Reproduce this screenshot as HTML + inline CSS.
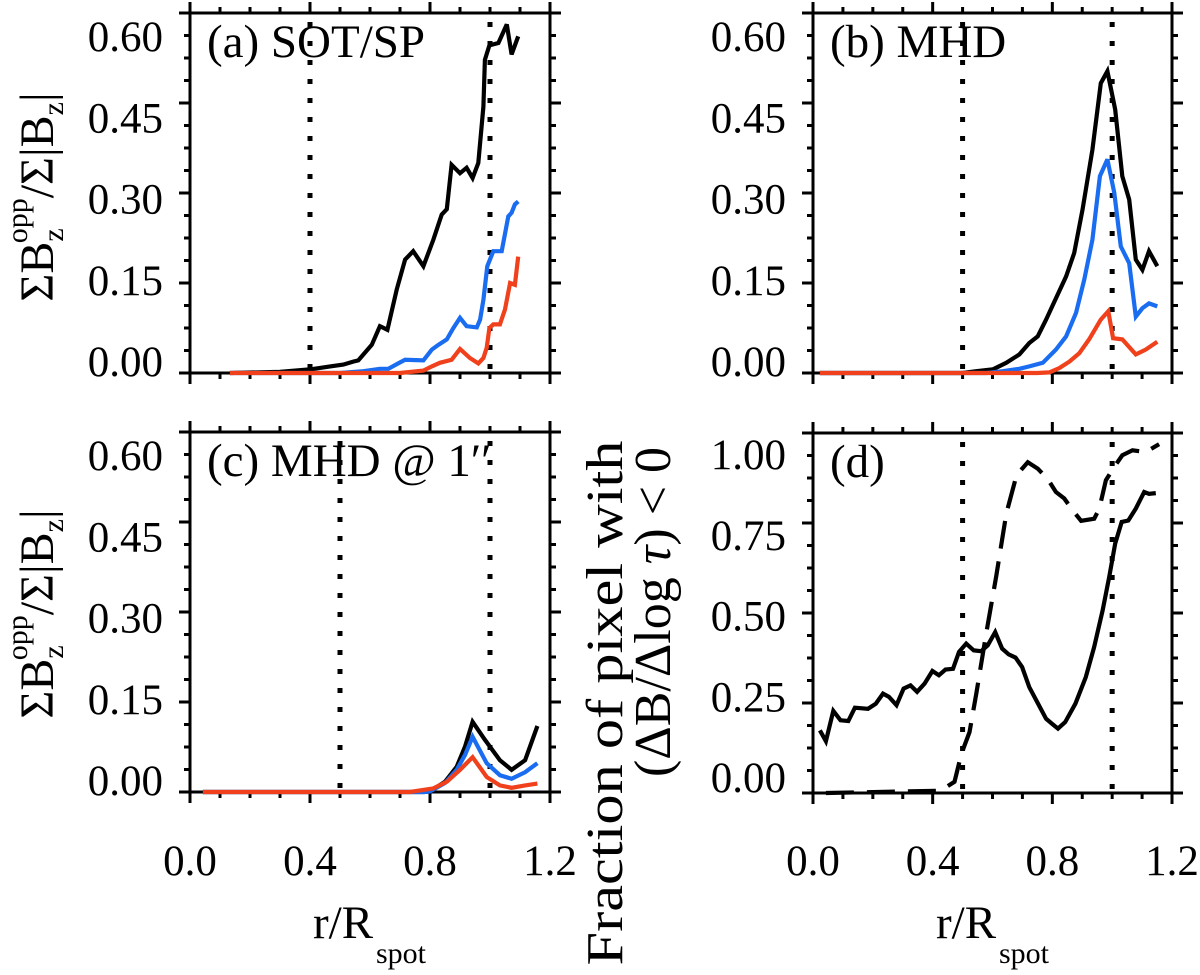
<!DOCTYPE html>
<html><head><meta charset="utf-8"><style>
html,body{margin:0;padding:0;background:#fff;}
svg{display:block;font-family:"Liberation Serif","DejaVu Serif",serif;}
</style></head><body>
<svg id="fig" width="1200" height="975" viewBox="0 0 1200 975" xmlns="http://www.w3.org/2000/svg">
<g id="layer"></g>
<g transform="translate(53,197) rotate(-90)">
<text text-anchor="middle" font-size="48">ΣB<tspan font-size="30" dy="10">z</tspan><tspan font-size="30" dx="-15" dy="-36">opp</tspan><tspan dy="26">/Σ|B</tspan><tspan font-size="30" dy="10">z</tspan><tspan dy="-10">|</tspan></text>
</g>
<g transform="translate(53,614) rotate(-90)">
<text text-anchor="middle" font-size="48">ΣB<tspan font-size="30" dy="10">z</tspan><tspan font-size="30" dx="-15" dy="-36">opp</tspan><tspan dy="26">/Σ|B</tspan><tspan font-size="30" dy="10">z</tspan><tspan dy="-10">|</tspan></text>
</g>
<g>
<text transform="translate(622,703) rotate(-90)" text-anchor="middle" font-size="52" textLength="525" lengthAdjust="spacingAndGlyphs">Fraction of pixel with</text>
<text transform="translate(670,612) rotate(-90)" text-anchor="middle" font-size="52">(ΔB/Δlog <tspan font-style="italic">τ</tspan>) &lt; 0</text>
</g>
<g><text x="313" y="938" font-size="47">r/R</text><text x="376" y="963" font-size="30">spot</text></g>
<g><text x="936" y="938" font-size="47">r/R</text><text x="999" y="963" font-size="30">spot</text></g>
</svg>
<script>
// ---------- data ----------
const xTicks = [0.0, 0.4, 0.8, 1.2];
const xTickLabels = ["0.0", "0.4", "0.8", "1.2"];
const yTicksB = [0.00, 0.15, 0.30, 0.45, 0.60];
const yTickLabelsB = ["0.00", "0.15", "0.30", "0.45", "0.60"];
const yTicksF = [0.00, 0.25, 0.50, 0.75, 1.00];
const yTickLabelsF = ["0.00", "0.25", "0.50", "0.75", "1.00"];

const aBlackR = [0.133,0.30,0.40,0.467,0.511,0.544,0.561,0.606,0.633,0.658,0.689,0.717,0.744,0.778,0.811,0.839,0.856,0.872,0.900,0.922,0.942,0.961,0.978,0.983,0.998,1.028,1.056,1.072,1.094];
const aBlackV = [0,0.002,0.006,0.011,0.014,0.019,0.021,0.047,0.078,0.072,0.139,0.189,0.203,0.178,0.222,0.264,0.273,0.347,0.333,0.342,0.325,0.350,0.444,0.522,0.546,0.550,0.581,0.531,0.561];
const aBlueR = [0.133,0.50,0.578,0.633,0.661,0.694,0.717,0.778,0.806,0.828,0.856,0.878,0.9,0.922,0.956,0.967,0.978,0.991,1.011,1.039,1.061,1.072,1.083,1.094];
const aBlueV = [0,0,0.003,0.007,0.007,0.016,0.022,0.021,0.039,0.047,0.056,0.075,0.092,0.078,0.076,0.089,0.122,0.178,0.203,0.203,0.261,0.267,0.281,0.286];
const aRedR = [0.133,0.70,0.778,0.806,0.833,0.872,0.9,0.933,0.961,0.978,0.989,0.998,1.011,1.033,1.05,1.067,1.083,1.094];
const aRedV = [0,0,0.004,0.011,0.017,0.022,0.04,0.025,0.016,0.025,0.042,0.075,0.081,0.081,0.106,0.15,0.147,0.194];

const bBlackR = [0.023,0.50,0.546,0.601,0.646,0.69,0.723,0.751,0.779,0.807,0.846,0.873,0.901,0.934,0.962,0.984,1.01,1.034,1.057,1.079,1.101,1.123,1.151];
const bBlackV = [0,0,0.003,0.006,0.017,0.031,0.05,0.061,0.089,0.119,0.161,0.2,0.272,0.372,0.483,0.503,0.439,0.328,0.289,0.189,0.172,0.203,0.178];
const bBlueR = [0.023,0.58,0.634,0.69,0.723,0.768,0.812,0.846,0.879,0.907,0.934,0.959,0.984,1.007,1.029,1.057,1.079,1.101,1.123,1.151];
const bBlueV = [0,0,0.003,0.007,0.011,0.017,0.039,0.061,0.1,0.156,0.222,0.328,0.356,0.3,0.211,0.183,0.094,0.108,0.116,0.111];
const bRedR = [0.023,0.75,0.79,0.823,0.857,0.89,0.923,0.962,0.987,1.003,1.034,1.079,1.112,1.151];
const bRedV = [0,0,0.001,0.008,0.019,0.033,0.056,0.089,0.103,0.058,0.056,0.031,0.039,0.052];

const cBlackR = [0.043,0.78,0.8,0.85,0.889,0.917,0.942,0.983,1.033,1.072,1.117,1.158];
const cBlackV = [0,0,0.001,0.017,0.042,0.076,0.117,0.087,0.053,0.037,0.053,0.11];
const cBlueR = [0.043,0.78,0.8,0.85,0.889,0.917,0.942,0.989,1.033,1.072,1.117,1.158];
const cBlueV = [0,0,0.001,0.015,0.037,0.062,0.092,0.048,0.028,0.022,0.033,0.048];
const cRedR = [0.043,0.733,0.811,0.856,0.9,0.942,0.989,1.033,1.072,1.117,1.158];
const cRedV = [0,0,0.006,0.017,0.037,0.058,0.025,0.011,0.007,0.011,0.014];

const dSolidR = [0.023,0.043,0.068,0.092,0.118,0.14,0.184,0.21,0.234,0.254,0.279,0.303,0.326,0.348,0.373,0.399,0.421,0.443,0.468,0.488,0.512,0.537,0.562,0.584,0.609,0.632,0.654,0.677,0.699,0.723,0.751,0.779,0.801,0.819,0.843,0.877,0.912,0.94,0.968,0.99,1.01,1.032,1.054,1.079,1.107,1.123,1.146];
const dSolidV = [0.174,0.144,0.228,0.202,0.2,0.237,0.234,0.248,0.276,0.267,0.244,0.29,0.299,0.281,0.304,0.339,0.327,0.343,0.345,0.392,0.415,0.396,0.394,0.41,0.447,0.401,0.385,0.376,0.35,0.294,0.25,0.206,0.191,0.179,0.197,0.248,0.322,0.406,0.507,0.6,0.693,0.753,0.757,0.79,0.836,0.831,0.833];
const dDashR = [0.043,0.412,0.446,0.473,0.496,0.523,0.546,0.579,0.612,0.646,0.679,0.69,0.718,0.751,0.784,0.812,0.84,0.868,0.896,0.94,0.957,0.979,1.007,1.034,1.068,1.112,1.157];
const dDashV = [0,0.006,0.017,0.031,0.109,0.169,0.276,0.443,0.6,0.776,0.878,0.892,0.919,0.901,0.873,0.836,0.818,0.785,0.756,0.762,0.79,0.869,0.906,0.938,0.952,0.947,0.969];

// ---------- drawing ----------
const NS = "http://www.w3.org/2000/svg";
const layer = document.getElementById("layer");
function mk(tag, attrs, parent) {
  const e = document.createElementNS(NS, tag);
  for (const k in attrs) e.setAttribute(k, attrs[k]);
  (parent || layer).appendChild(e);
  return e;
}

function panel(p) {
  const g = mk("g", {});
  
  
  const xs = v => p.x0 + (v - 0) / 1.2 * (p.x1 - p.x0);
  const ys = v => p.y1 - v / p.ymax * (p.y1 - p.y0);
  const SW = 3;
  const frame = mk("rect", {x: p.x0, y: p.y0, width: p.x1 - p.x0, height: p.y1 - p.y0, fill: "none", stroke: "#000", "stroke-width": SW}, g);
  
  
  mk("line", {x1: p.x0 - 11, x2: p.x1 + 11, y1: p.y1, y2: p.y1, stroke: "#000", "stroke-width": SW}, g);
  mk("line", {x1: p.x0 - 11, x2: p.x1 + 11, y1: p.y0, y2: p.y0, stroke: "#000", "stroke-width": SW}, g);
  mk("line", {x1: p.x0, x2: p.x0, y1: p.y0 - 11, y2: p.y1 + 11, stroke: "#000", "stroke-width": SW}, g);
  mk("line", {x1: p.x1, x2: p.x1, y1: p.y0 - 11, y2: p.y1 + 11, stroke: "#000", "stroke-width": SW}, g);
  for (let i = 0; i <= 12; i++) {
    const v = i / 10, X = xs(v), L = (i % 4 === 0) ? 11 : 6;
    mk("line", {x1: X, x2: X, y1: p.y1, y2: p.y1 + L, stroke: "#000", "stroke-width": SW}, g);
    mk("line", {x1: X, x2: X, y1: p.y0, y2: p.y0 - L, stroke: "#000", "stroke-width": SW}, g);
  }
  const step = p.yt[1] - p.yt[0];
  for (let i = 0; i <= 4 * (p.yt.length - 1); i++) {
    const v = i * step / 4, Y = ys(v), L = (i % 4 === 0) ? 11 : 6;
    mk("line", {x1: p.x0, x2: p.x0 - L, y1: Y, y2: Y, stroke: "#000", "stroke-width": SW}, g);
    mk("line", {x1: p.x1, x2: p.x1 + L, y1: Y, y2: Y, stroke: "#000", "stroke-width": SW}, g);
  }
  p.yt.forEach((v, i) => {
    const t = mk("text", {x: p.x0 - 27, y: p.labTop + (1 - v / p.ymax) * (p.labBot - p.labTop) + 14, "font-size": 43, "text-anchor": "end"}, g);
    t.textContent = p.ytl[i];
    
    
  });
  if (p.xlabels) {
    xTicks.forEach((v, i) => {
      const t = mk("text", {x: xs(v), y: 875, "font-size": 43, "text-anchor": "middle"}, g);
      t.textContent = xTickLabels[i];
      
      
    });
  }
  p.vlines.forEach(v => {
    const l = mk("line", {x1: xs(v), x2: xs(v), y1: p.y0 + 8, y2: p.y1, stroke: "#000", "stroke-width": 5, "stroke-dasharray": "5 14", "stroke-dashoffset": "-1"}, g);
    
    
  });
  p.series.forEach(s => {
    const pts = s.r.map((r, i) => xs(r).toFixed(1) + "," + ys(s.v[i]).toFixed(1)).join(" ");
    const attrs = {points: pts, fill: "none", stroke: s.c, "stroke-width": 4.2, "stroke-linejoin": "miter", "stroke-miterlimit": 3};
    if (s.dash) attrs["stroke-dasharray"] = s.dash;
    const pl = mk("polyline", attrs, g);
    
    
  });
  const t = mk("text", {x: p.x0 + 17, y: p.y0 + 44, "font-size": 47}, g);
  t.textContent = p.title;
  
  
}

const BLUE = "#1a6cf0", RED = "#f0401c";
panel({name: "panel-a", x0: 190, x1: 550, y0: 13, y1: 373, ymax: 0.6, yt: yTicksB, ytl: yTickLabelsB, labTop: 37, labBot: 362, xlabels: false, vlines: [0.4, 1.0], title: "(a) SOT/SP",
  series: [{r: aBlackR, v: aBlackV, c: "#000", name: "series-black-a"}, {r: aBlueR, v: aBlueV, c: BLUE, name: "series-blue-a"}, {r: aRedR, v: aRedV, c: RED, name: "series-red-a"}]});
panel({name: "panel-b", x0: 813, x1: 1172, y0: 13, y1: 373, ymax: 0.6, yt: yTicksB, ytl: yTickLabelsB, labTop: 37, labBot: 362, xlabels: false, vlines: [0.5, 1.0], title: "(b) MHD",
  series: [{r: bBlackR, v: bBlackV, c: "#000", name: "series-black-b"}, {r: bBlueR, v: bBlueV, c: BLUE, name: "series-blue-b"}, {r: bRedR, v: bRedV, c: RED, name: "series-red-b"}]});
panel({name: "panel-c", x0: 190, x1: 550, y0: 432, y1: 792, ymax: 0.6, yt: yTicksB, ytl: yTickLabelsB, labTop: 456, labBot: 781, xlabels: true, vlines: [0.5, 1.0], title: "(c) MHD @ 1′′",
  series: [{r: cBlackR, v: cBlackV, c: "#000", name: "series-black-c"}, {r: cBlueR, v: cBlueV, c: BLUE, name: "series-blue-c"}, {r: cRedR, v: cRedV, c: RED, name: "series-red-c"}]});
panel({name: "panel-d", x0: 813, x1: 1172, y0: 433, y1: 793, ymax: 1.0, yt: yTicksF, ytl: yTickLabelsF, labTop: 455, labBot: 778, xlabels: true, vlines: [0.5, 1.0], title: "(d)",
  series: [{r: dSolidR, v: dSolidV, c: "#000", name: "series-solid-d"}, {r: dDashR, v: dDashV, c: "#000", dash: "28 13", name: "series-dashed-d"}]});
</script>
</body></html>
